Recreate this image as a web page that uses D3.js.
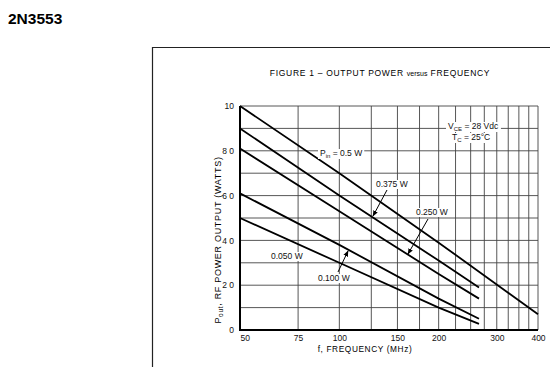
<!DOCTYPE html>
<html>
<head>
<meta charset="utf-8">
<script src="https://cdn.jsdelivr.net/npm/d3@7"></script>
<style>
  body { margin: 0; background: #fff; }
  svg { display: block; font-family: "Liberation Sans", Arial, sans-serif; }
</style>
</head>
<body>
<div id="chart"></div>
<script>
// frequency points (MHz) and output power (W)
var freqLong = [50, 100, 200, 400];
var freqShort = [50, 100, 200, 265];
var pin050 = [10, 7.0, 3.9, 0.7];
var pin0375 = [9.0, 6.0, 3.1, 1.9];
var pin0250 = [8.1, 5.3, 2.5, 1.4];
var pin0100 = [6.1, 3.8, 1.4, 0.5];
var pin0050 = [5.0, 3.0, 1.0, 0.27];

var xGrid = d3.range(50, 401, 25);
var yGrid = d3.range(0, 11, 1);
var xTickLabels = [50, 75, 100, 150, 200, 300, 400];
var yTickLabels = [0, 2, 4, 6, 8, 10];

var series = [
    {f: freqLong, p: pin050},
    {f: freqShort, p: pin0375},
    {f: freqShort, p: pin0250},
    {f: freqShort, p: pin0100},
    {f: freqShort, p: pin0050}
];

var W = 550, H = 367;
var svg = d3.select("#chart").append("svg")
    .attr("width", W)
    .attr("height", H);

// part number
svg.append("text")
    .attr("x", 8).attr("y", 24)
    .attr("font-size", 15.5).attr("font-weight", "bold")
    .text("2N3553");

// figure frame
svg.append("path")
    .attr("d", "M152.5,367 V47.5 H550")
    .attr("fill", "none").attr("stroke", "#222").attr("stroke-width", 1.2);

svg.append("text")
    .attr("x", 380).attr("y", 76)
    .attr("text-anchor", "middle")
    .attr("font-size", 8.5)
    .attr("letter-spacing", 0.7)
    .text("FIGURE 1 \u2013 OUTPUT POWER ")
    .append("tspan").attr("font-size", 7).attr("letter-spacing", 0).text("versus")
    .select(function() { return this.parentNode; })
    .append("tspan").text(" FREQUENCY");

var x = d3.scaleLog().domain([50, 400]).range([240, 538]);
var y = d3.scaleLinear().domain([0, 10]).range([330, 106]);

// grid
svg.append("g").selectAll("line")
    .data(xGrid).enter()
    .append("line")
    .attr("x1", function(d) { return x(d); })
    .attr("x2", function(d) { return x(d); })
    .attr("y1", y(0)).attr("y2", y(10))
    .attr("stroke", "#444").attr("stroke-width", 0.9);

svg.append("g").selectAll("line")
    .data(yGrid).enter()
    .append("line")
    .attr("x1", x(50)).attr("x2", x(400))
    .attr("y1", function(d) { return y(d); })
    .attr("y2", function(d) { return y(d); })
    .attr("stroke", "#444").attr("stroke-width", 0.9);

// heavier left and bottom edges
svg.append("path")
    .attr("d", "M" + x(50) + "," + y(10) + " V" + y(0) + " H" + x(400))
    .attr("fill", "none").attr("stroke", "#000").attr("stroke-width", 2);

// axes labels
var xAxis = d3.axisBottom(x).tickValues(xTickLabels).tickSize(0).tickPadding(5)
    .tickFormat(d3.format("d"));
var gx = svg.append("g")
    .attr("transform", "translate(0," + y(0) + ")")
    .call(xAxis);
gx.select(".domain").remove();
gx.selectAll("text").attr("font-size", 8.5).attr("fill", "#111")
    .attr("font-family", "\"Liberation Sans\", Arial, sans-serif")
    .attr("text-anchor", function(d) { return d === 50 ? "start" : "middle"; });

var yAxis = d3.axisLeft(y).tickValues(yTickLabels).tickSize(0).tickPadding(6)
    .tickFormat(function(d) { return d === 0 ? "0" : d === 10 ? "10" : d.toFixed(1).replace(".", " "); });
var gy = svg.append("g")
    .attr("transform", "translate(" + x(50) + ",0)")
    .call(yAxis);
gy.select(".domain").remove();
gy.selectAll("text").attr("font-size", 8.5).attr("fill", "#111")
    .attr("font-family", "\"Liberation Sans\", Arial, sans-serif");

svg.append("text")
    .attr("x", 365).attr("y", 352)
    .attr("text-anchor", "middle")
    .attr("font-size", 8.3).attr("letter-spacing", 0.6)
    .text("f, FREQUENCY (MHz)");

var yl = svg.append("text")
    .attr("transform", "translate(221,240) rotate(-90)")
    .attr("text-anchor", "middle")
    .attr("font-size", 9).attr("letter-spacing", 0.7);
yl.append("tspan").text("P");
yl.append("tspan").attr("font-size", 6.5).attr("dy", 2).text("out");
yl.append("tspan").attr("dy", -2).text(", RF POWER OUTPUT (WATTS)");

// curves
var line = d3.line()
    .x(function(d) { return x(d[0]); })
    .y(function(d) { return y(d[1]); });

svg.append("g").selectAll("path")
    .data(series).enter()
    .append("path")
    .attr("d", function(s) { return line(d3.zip(s.f, s.p)); })
    .attr("fill", "none").attr("stroke", "#000").attr("stroke-width", 1.8);

// curve labels, with a white patch behind so the grid breaks around them
var labelLayer = svg.append("g");
function label(tx, ty, parts) {
    var g = labelLayer.append("g");
    var bg = g.append("rect").attr("fill", "#fff");
    var t = g.append("text").attr("x", tx).attr("y", ty)
        .attr("font-size", 8.5).attr("fill", "#111");
    parts.forEach(function(p) {
        var ts = t.append("tspan").text(p.t);
        if (p.sub) ts.attr("font-size", 6).attr("dy", 2);
        if (p.up) ts.attr("dy", -2);
    });
    var b = t.node().getBBox();
    bg.attr("x", b.x - 2).attr("y", b.y + 1)
        .attr("width", b.width + 4).attr("height", b.height - 1);
}
label(320, 156, [{t: "P"}, {t: "in", sub: true}, {t: " = 0.5 W", up: true}]);
label(376, 187, [{t: "0.375 W"}]);
label(416, 215, [{t: "0.250 W"}]);
label(271, 259, [{t: "0.050 W"}]);
label(318, 281, [{t: "0.100 W"}]);
label(448, 129, [{t: "V"}, {t: "CE", sub: true}, {t: " = 28 Vdc", up: true}]);
label(452, 140, [{t: "T"}, {t: "C", sub: true}, {t: " = 25\u00b0C", up: true}]);

// arrows pointing at curves
svg.append("defs").append("marker")
    .attr("id", "ah").attr("viewBox", "0 0 10 10")
    .attr("refX", 9).attr("refY", 5)
    .attr("markerWidth", 6).attr("markerHeight", 6)
    .attr("orient", "auto")
    .append("path").attr("d", "M0,1 L10,5 L0,9 z").attr("fill", "#000");

var arrows = [
    [387, 190, 373, 216],
    [428, 219, 408, 254],
    [338, 272, 348, 251]
];
svg.append("g").selectAll("line")
    .data(arrows).enter()
    .append("line")
    .attr("x1", function(d) { return d[0]; })
    .attr("y1", function(d) { return d[1]; })
    .attr("x2", function(d) { return d[2]; })
    .attr("y2", function(d) { return d[3]; })
    .attr("stroke", "#000").attr("stroke-width", 1)
    .attr("marker-end", "url(#ah)");
</script>
</body>
</html>
